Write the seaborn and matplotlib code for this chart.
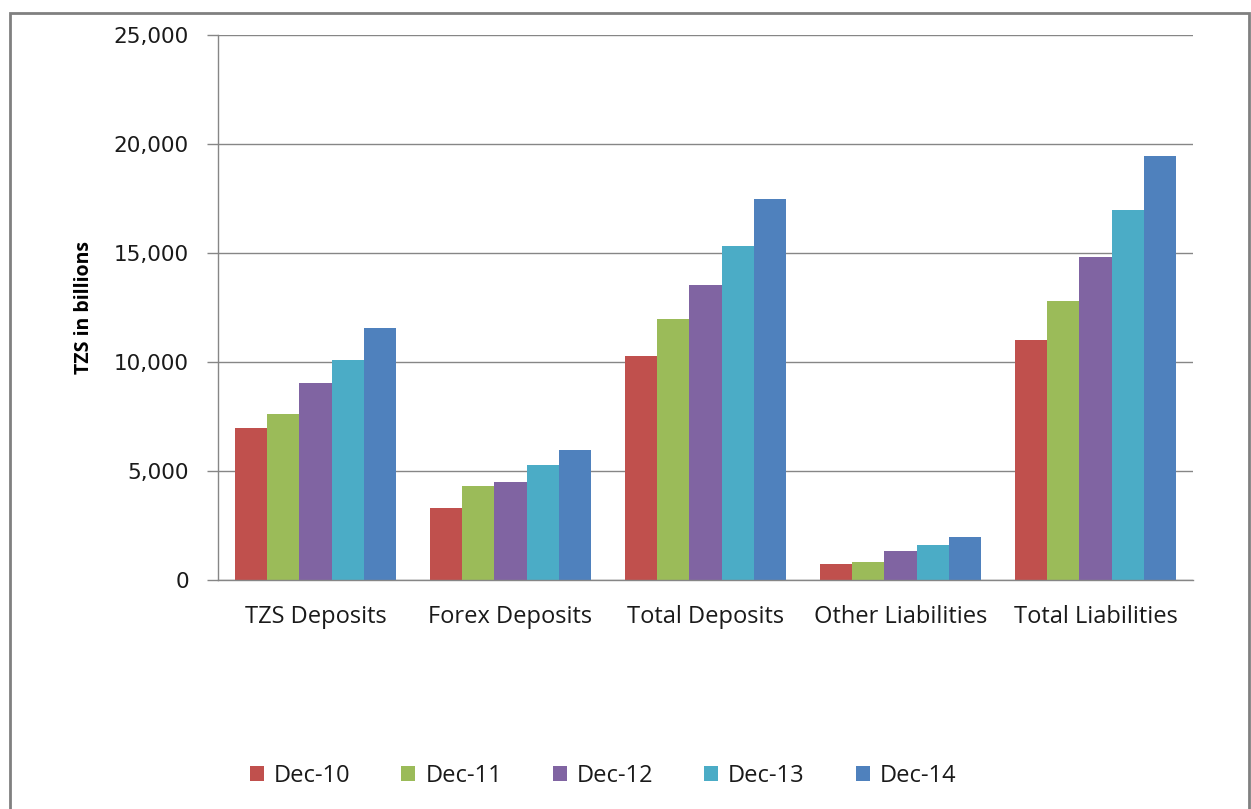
import matplotlib
matplotlib.use("Agg")
import matplotlib.pyplot as plt
import seaborn as sns
import pandas as pd
from matplotlib.patches import Rectangle, Patch
from matplotlib.ticker import FuncFormatter

categories = ["TZS Deposits", "Forex Deposits", "Total Deposits", "Other Liabilities", "Total Liabilities"]
series = ["Dec-10", "Dec-11", "Dec-12", "Dec-13", "Dec-14"]
dec10 = [6970, 3300, 10280, 740, 11010]
dec11 = [7610, 4310, 11970, 830, 12800]
dec12 = [9040, 4500, 13530, 1330, 14820]
dec13 = [10090, 5270, 15320, 1610, 16970]
dec14 = [11560, 5960, 17480, 1970, 19450]
colors = ["#C0504D", "#9BBB59", "#8064A2", "#4BACC6", "#4F81BD"]

rows = []
for s, vals in zip(series, [dec10, dec11, dec12, dec13, dec14]):
    for c, v in zip(categories, vals):
        rows.append({"category": c, "series": s, "value": v})
df = pd.DataFrame(rows)

sns.set_style("white")
plt.rcParams["font.family"] = ["Open Sans", "DejaVu Sans"]

fig = plt.figure(figsize=(12.51, 8.09), dpi=100)
ax = fig.add_axes([218/1251, 1-580/809, (1193-218)/1251, (580-35)/809])

sns.barplot(data=df, x="category", y="value", hue="series", order=categories,
            hue_order=series, palette=colors, width=0.83, gap=0, saturation=1,
            ax=ax, legend=False, edgecolor="none", linewidth=0)

ax.set_ylim(0, 25000)
ax.set_xlim(-0.5, 4.5)
ax.set_yticks([0, 5000, 10000, 15000, 20000, 25000])
ax.yaxis.set_major_formatter(FuncFormatter(lambda v, p: f"{int(v):,}"))
ax.grid(axis="y", color="#868686", linewidth=1)
ax.set_axisbelow(True)
for side in ["top", "right"]:
    ax.spines[side].set_visible(False)
ax.spines["left"].set_color("#868686")
ax.spines["bottom"].set_color("#868686")
ax.spines["left"].set_linewidth(1)
ax.spines["bottom"].set_linewidth(1)

ax.set_xticks([0, 1, 2, 3, 4])
ax.set_xticklabels(categories)
ax.set_xticks([-0.5, 0.5, 1.5, 2.5, 3.5, 4.5], minor=True)
ax.tick_params(axis="x", which="major", length=0, pad=18, labelsize=17, labelcolor="#1a1a1a")
ax.tick_params(axis="x", which="minor", length=5, width=1, color="#868686", direction="out")
ax.tick_params(axis="y", length=8, width=1, color="#868686", pad=13, labelsize=15.5,
               labelcolor="#1a1a1a", left=True)
for lbl in ax.get_yticklabels():
    lbl.set_fontfamily("DejaVu Sans")

ax.set_xlabel("")
ax.set_ylabel("TZS in billions", fontsize=14, fontweight="bold", labelpad=14, color="black")

handles = [Patch(facecolor=c, edgecolor="none") for c in colors]
fig.legend(handles, series, loc="center", bbox_to_anchor=(603/1251, 1-776/809), ncol=5,
           frameon=False, fontsize=17, handlelength=0.6, handleheight=0.6,
           handletextpad=0.42, columnspacing=2.15, labelcolor="#1a1a1a")

fig.patches.append(Rectangle((10/1251, -0.01), (1249-10)/1251, 1-13/809 + 0.01,
                             transform=fig.transFigure, fill=False,
                             edgecolor="#808080", linewidth=2))

fig.savefig("out.png", dpi=100)
